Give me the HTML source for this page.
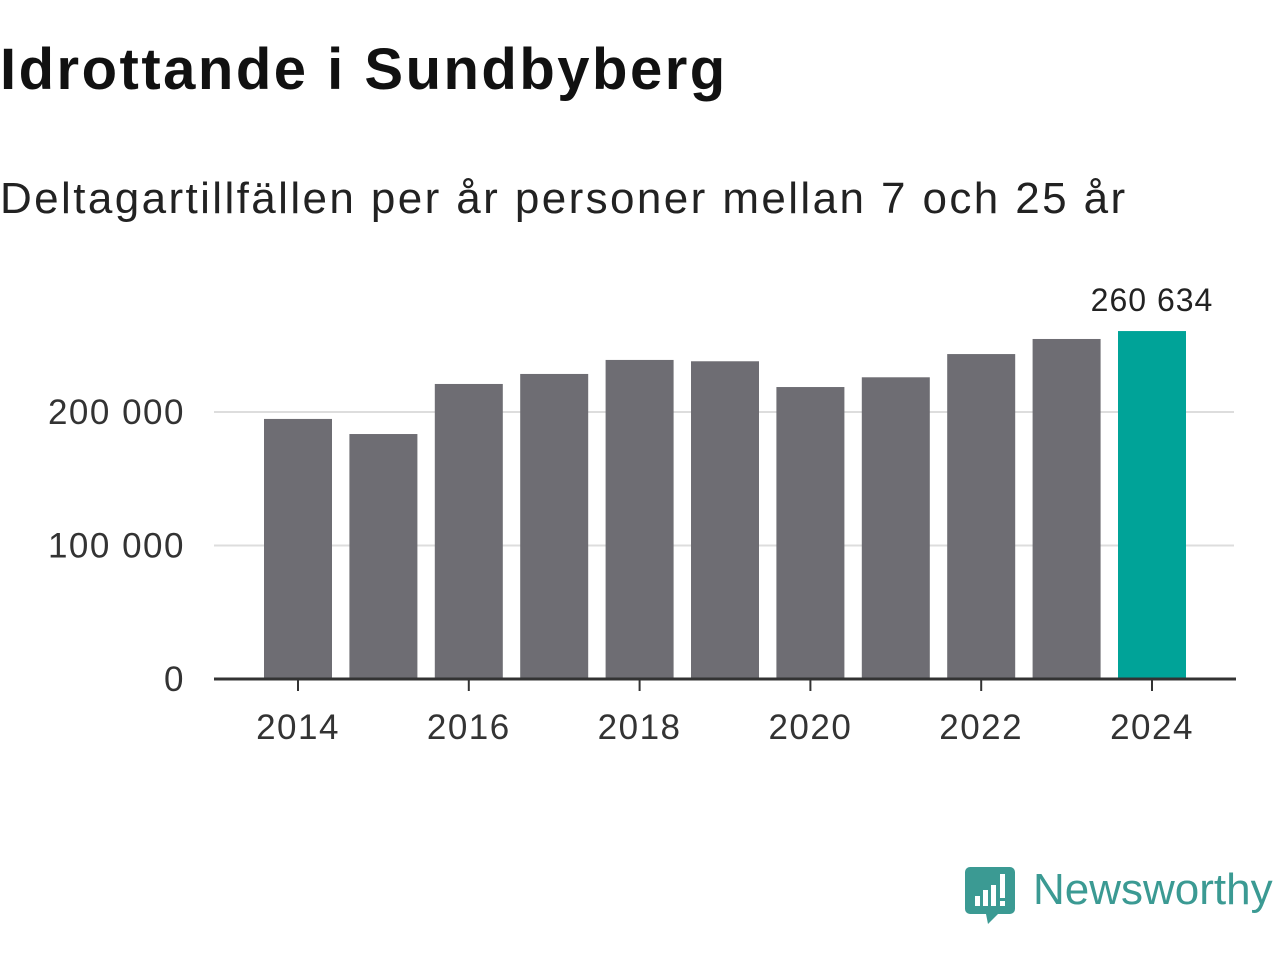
<!DOCTYPE html>
<html><head><meta charset="utf-8">
<style>
body{margin:0;width:1280px;height:960px;background:#fff;font-family:"Liberation Sans",sans-serif;overflow:hidden;position:relative}
#title{position:absolute;left:0;top:40px;font-size:58px;line-height:60px;letter-spacing:2.5px;font-weight:bold;color:#111;margin:0}
#sub{position:absolute;left:0;top:174px;font-size:44px;line-height:50px;letter-spacing:2.4px;color:#222}
svg{position:absolute;left:0;top:0}
</style></head><body>
<h1 id="title">Idrottande i Sundbyberg</h1>
<div id="sub">Deltagartillfällen per år personer mellan 7 och 25 år</div>
<svg id="chart" width="1280" height="960"></svg>
<script>
const years=[2014,2015,2016,2017,2018,2019,2020,2021,2022,2023,2024];
const values=[194800,183500,221000,228500,239000,238000,218700,226000,243400,254700,260634];
const yTicks=[0,100000,200000];
const yTickLabels=["0","100 000","200 000"];
const xTickYears=[2014,2016,2018,2020,2022,2024];
const NS="http://www.w3.org/2000/svg";
const svg=document.getElementById('chart');
const y=v=>679-v*0.001335;
const x=yr=>298+(yr-2014)*85.4;
function mk(t,a){const e=document.createElementNS(NS,t);for(const k in a)e.setAttribute(k,a[k]);svg.appendChild(e);return e;}
yTicks.forEach((t,i)=>{
  if(t>0){const g=mk('line',{x1:214,x2:1234,y1:y(t),y2:y(t),stroke:'#ddd','stroke-width':2});
  
  }
  const l=mk('text',{x:185,y:y(t)+12,'text-anchor':'end','font-size':35,'letter-spacing':1.5,fill:'#333','font-family':'Liberation Sans, sans-serif'});
  l.textContent=yTickLabels[i];
  
  
});
years.forEach((yr,i)=>{
  const last=i===years.length-1;
  const b=mk('rect',{x:x(yr)-34,y:y(values[i]),width:68,height:679-y(values[i]),fill:last?'#00a398':'#6e6d73'});
  
  
  if(last){const t=mk('text',{x:x(yr),y:y(values[i])-20,'text-anchor':'middle','font-size':32,'letter-spacing':1,fill:'#222','font-family':'Liberation Sans, sans-serif'});
  t.textContent=values[i].toLocaleString('sv-SE').replace(/\s/g,' ');
  
  }
});
const ax=mk('line',{x1:214,x2:1236,y1:679,y2:679,stroke:'#333','stroke-width':3});


xTickYears.forEach(yr=>{
  const tk=mk('line',{x1:x(yr),x2:x(yr),y1:679,y2:691,stroke:'#333','stroke-width':2});
  
  
  const t=mk('text',{x:x(yr),y:739,'text-anchor':'middle','font-size':35,'letter-spacing':1.5,fill:'#333','font-family':'Liberation Sans, sans-serif'});
  t.textContent=yr;
  
  
});
</script>
<svg width="1280" height="960" style="pointer-events:none">
<path d="M970 867 h40 a5 5 0 0 1 5 5 v37 a5 5 0 0 1 -5 5 h-12 l-10 10 l-2 -10 h-16 a5 5 0 0 1 -5 -5 v-37 a5 5 0 0 1 5 -5z" fill="#3b9a93"/>
<rect x="975" y="896" width="5" height="10" fill="#fff"/><rect x="983" y="890" width="5" height="16" fill="#fff"/><rect x="991" y="885" width="5" height="21" fill="#fff"/><rect x="1000" y="874" width="5" height="24" fill="#fff"/><rect x="1000" y="901" width="5" height="5" fill="#fff"/>
<text x="1033" y="904" font-size="44" fill="#3b9a93" font-family="Liberation Sans, sans-serif">Newsworthy</text>
</svg>
</body></html>
